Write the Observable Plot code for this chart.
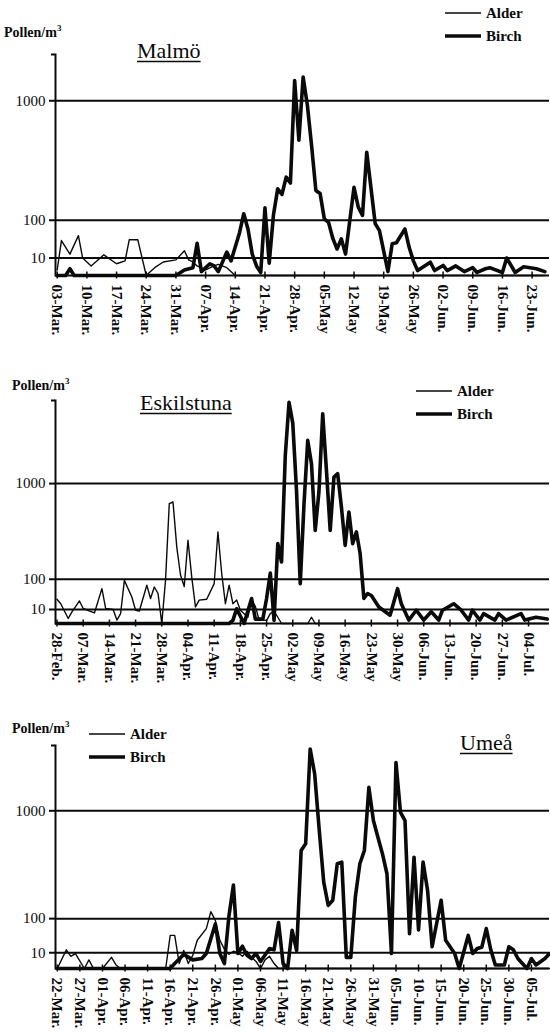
<!DOCTYPE html>
<html>
<head>
<meta charset="utf-8">
<script src="https://cdn.jsdelivr.net/npm/d3@7"></script>
<script src="https://cdn.jsdelivr.net/npm/@observablehq/plot@0.6"></script>
<style>
  body { margin: 0; background: #fff; }
  #chart { position: relative; width: 550px; height: 1032px; overflow: hidden; background: #fff; }
  #chart > svg { position: absolute; left: 0; }
</style>
</head>
<body>
<div id="chart"></div>
<script>
// Daily pollen counts (pollen/m³) as [day since first date, count].

// Malmö, first day 03-Mar
const malmoTicks = ["03-Mar.", "10-Mar.", "17-Mar.", "24-Mar.", "31-Mar.", "07-Apr.", "14-Apr.", "21-Apr.", "28-Apr.", "05-May", "12-May", "19-May", "26-May", "02-Jun.", "09-Jun.", "16-Jun.", "23-Jun."];
const malmoAlder = [[0,1],[1,40],[3,15],[5,52],[6,10],[8,3],[11,14],[14,4.5],[16,7],[17,42],[19,42],[21,0],[22,0.5],[23,2],[25,6],[28,8],[30,20],[31,8],[32,6],[33,3],[35,1],[37,3],[38,4],[40,2],[42,0],[115,0]];
const malmoBirch = [[0,0],[2,0],[3,1.5],[4,0],[28,0],[30,1],[32,2],[33,34],[34,0.5],[36,4.5],[37,3],[38,0.5],[40,18],[41,7],[43,60],[44,125],[45,70],[46,15],[47,3],[48,0.3],[49,150],[50,5],[51,120],[52,246],[53,215],[54,317],[55,280],[56,1245],[57,600],[58,1290],[59,950],[60,550],[61,237],[62,220],[63,105],[64,92],[65,45],[66,23],[67,44],[68,15],[70,255],[71,153],[72,118],[73,498],[75,88],[76,66],[78,0.5],[79,33],[80,35],[82,71],[83,26],[84,7],[85,0.8],[88,5.8],[89,0.8],[91,3.3],[92,0.8],[94,3],[96,0.5],[98,2],[99,0.3],[101,1.5],[102,2],[105,0.3],[106,10],[108,0.3],[110,2.5],[113,1.5],[115,0.5]];

// Eskilstuna, first day 28-Feb
const eskTicks = ["28-Feb.", "07-Mar.", "14-Mar.", "21-Mar.", "28-Mar.", "04-Apr.", "11-Apr.", "18-Apr.", "25-Apr.", "02-May", "09-May", "16-May", "23-May", "30-May", "06-Jun.", "13-Jun.", "20-Jun.", "27-Jun.", "04-Jul."];
const eskAlder = [[0,30],[1,20],[3,1.3],[4,7],[6,26],[7,11.5],[10,5.7],[12,62],[13,11.5],[15,10],[16,0.6],[17,5],[18,95],[20,36],[21,9],[22,8],[24,75],[25,32],[26,68],[27,46],[28,0],[29,95],[30,734],[31,754],[32,300],[33,120],[34,70],[35,354],[36,111],[37,14],[38,28],[40,30],[42,81],[43,428],[44,130],[45,20],[46,75],[47,20],[48,28],[49,9],[51,2],[52,28],[53,15],[54,0.7],[56,0.5],[57,5],[58,8],[60,0],[67,0],[68,2],[69,0],[131,0]];
const eskBirch = [[0,0],[46,0],[47,0.5],[48,11],[50,0],[52,32],[53,1],[55,1],[56,32],[57,130],[58,0.5],[59,326],[60,193],[61,1440],[62,2500],[63,2050],[64,905],[65,81],[66,728],[67,1712],[68,1304],[69,443],[70,890],[71,2247],[72,1198],[73,443],[74,1095],[75,1146],[76,693],[77,312],[78,635],[79,326],[80,428],[81,250],[82,32],[83,46],[84,40],[86,14],[89,3.5],[91,62],[92,20],[94,0.6],[96,9],[98,0.6],[100,7],[102,0.6],[103,9],[106,20],[108,9],[110,0.6],[111,9],[113,0.6],[114,5],[117,0.6],[118,5],[120,0.6],[124,5],[125,0.6],[128,2],[131,1]];

// Umeå, first day 22-Mar
const umeTicks = ["22-Mar.", "27-Mar.", "01-Apr.", "06-Apr.", "11-Apr.", "16-Apr.", "21-Apr.", "26-Apr.", "01-May", "06-May", "11-May", "16-May", "21-May", "26-May", "31-May", "05-Jun.", "10-Jun.", "15-Jun.", "20-Jun.", "25-Jun.", "30-Jun.", "05-Jul."];
const umeAlder = [[0,0],[2,14],[3,6],[4,9],[6,0],[7,3],[8,0],[10,0],[12,5],[13,0.5],[14,0],[24,0],[25,44],[26,44],[27,1],[28,13],[29,1],[30,7],[31,32],[33,64],[34,130],[35,93],[36,32],[37,15],[38,8],[39,12],[40,10],[41,6],[42,12],[43,5],[44,2],[45,0],[46,3],[47,6],[48,1],[49,0],[109,0]];
const umeBirch = [[0,0],[25,0],[26,1],[28,8],[30,3],[32,4],[33,9],[35,80],[36,9],[37,1],[38,110],[39,280],[40,9],[41,20],[42,7],[43,4],[44,9],[45,2],[47,16],[48,14],[49,85],[50,1],[51,0],[52,59],[53,13],[54,560],[55,625],[56,1936],[57,1521],[58,773],[59,300],[60,160],[61,187],[62,441],[63,455],[64,5],[65,5],[66,205],[67,441],[68,560],[69,1319],[70,880],[71,693],[72,530],[73,361],[74,9],[75,1707],[76,981],[77,880],[78,49],[79,498],[80,60],[81,455],[82,245],[83,19],[85,187],[86,32],[88,9],[89,0],[91,44],[92,9],[93,16],[94,18],[95,64],[96,14],[97,0.5],[99,0.5],[100,19],[101,14],[102,4],[104,0],[105,4],[106,0.5],[108,4],[109,9]];

const gridValues = [10, 100, 1000];

const SERIF = "'Liberation Serif', 'Times New Roman', serif";
const INK = "#0a0a0a";

const panels = [
  {title: "Malmö", ticks: malmoTicks, step: 7, alder: malmoAlder, birch: malmoBirch,
   top: 0, height: 345, marginTop: 54, baseline: 275, dayMax: 116.1, yMax: 1600,
   pollen: [4, 37], titlePos: [137, 58], legend: [445, 13]},
  {title: "Eskilstuna", ticks: eskTicks, step: 7, alder: eskAlder, birch: eskBirch,
   top: 345, height: 345, marginTop: 55, baseline: 278, dayMax: 131.6, yMax: 2540,
   pollen: [12, 45], titlePos: [140, 65], legend: [416, 46]},
  {title: "Umeå", ticks: umeTicks, step: 5, alder: umeAlder, birch: umeBirch,
   top: 690, height: 342, marginTop: 55, baseline: 278, dayMax: 109, yMax: 2000,
   pollen: [12, 43], titlePos: [460, 60], legend: [89, 44]}
];

const chart = document.getElementById("chart");

for (const p of panels) {
  const tickDays = p.ticks.map((_, i) => i * p.step);
  const labelOf = new Map(tickDays.map((d, i) => [d, p.ticks[i]]));

  const svg = Plot.plot({
    width: 550,
    height: p.height,
    marginLeft: 55,
    marginRight: 1,
    marginTop: p.marginTop,
    marginBottom: p.height - p.baseline,
    style: {fontFamily: SERIF, color: INK, background: "transparent", overflow: "visible"},
    x: {type: "linear", domain: [-0.4, p.dayMax], axis: null},
    y: {type: "sqrt", domain: [0, p.yMax], axis: null},
    marks: [
      Plot.ruleY(gridValues, {stroke: INK, strokeWidth: 2}),
      Plot.ruleY([0], {stroke: INK, strokeWidth: 2}),
      Plot.frame({anchor: "left", stroke: INK, strokeWidth: 2}),
      Plot.axisY({ticks: gridValues, tickSize: 6, tickPadding: 4, strokeWidth: 2,
                  tickFormat: d => String(d), fontSize: 15}),
      Plot.axisY({ticks: [p.yMax], tickSize: 4, strokeWidth: 2, tickFormat: () => ""}),
      Plot.axisX({ticks: tickDays, tickSize: 7, dy: -3.5, strokeWidth: 1.5, tickFormat: () => ""}),
      Plot.axisX({ticks: tickDays, tickSize: 0, tickPadding: 9, tickRotate: 90,
                  tickFormat: d => labelOf.get(d), fontSize: 15, fontWeight: "bold"}),
      Plot.line(p.alder, {x: d => d[0], y: d => d[1], stroke: INK, strokeWidth: 1.4, strokeLinejoin: "round"}),
      Plot.line(p.birch, {x: d => d[0], y: d => d[1], stroke: INK, strokeWidth: 3.6, strokeLinejoin: "round"})
    ]
  });
  svg.style.top = p.top + "px";
  chart.appendChild(svg);

  // Axis unit, city title and legend
  const g = d3.select(svg).append("g")
    .attr("font-family", SERIF).attr("fill", INK).attr("text-anchor", "start");

  const unit = g.append("text")
    .attr("x", p.pollen[0]).attr("y", p.pollen[1])
    .attr("font-size", 14).attr("font-weight", "bold");
  unit.append("tspan").text("Pollen/m");
  unit.append("tspan").attr("font-size", 9).attr("dy", -6).text("3");

  const title = g.append("text")
    .attr("x", p.titlePos[0]).attr("y", p.titlePos[1])
    .attr("font-size", 22).text(p.title);
  const w = title.node().getComputedTextLength();
  g.append("line")
    .attr("x1", p.titlePos[0]).attr("x2", p.titlePos[0] + w)
    .attr("y1", p.titlePos[1] + 3.5).attr("y2", p.titlePos[1] + 3.5)
    .attr("stroke", INK).attr("stroke-width", 1.6);

  const [lx, ly] = p.legend;
  const entries = [["Alder", 1.4, 0], ["Birch", 3.6, 23]];
  for (const [name, sw, off] of entries) {
    g.append("line")
      .attr("x1", lx).attr("x2", lx + 36)
      .attr("y1", ly + off).attr("y2", ly + off)
      .attr("stroke", INK).attr("stroke-width", sw);
    g.append("text")
      .attr("x", lx + 41).attr("y", ly + off + 5)
      .attr("font-size", 15).attr("font-weight", "bold").text(name);
  }
}
</script>
</body>
</html>
